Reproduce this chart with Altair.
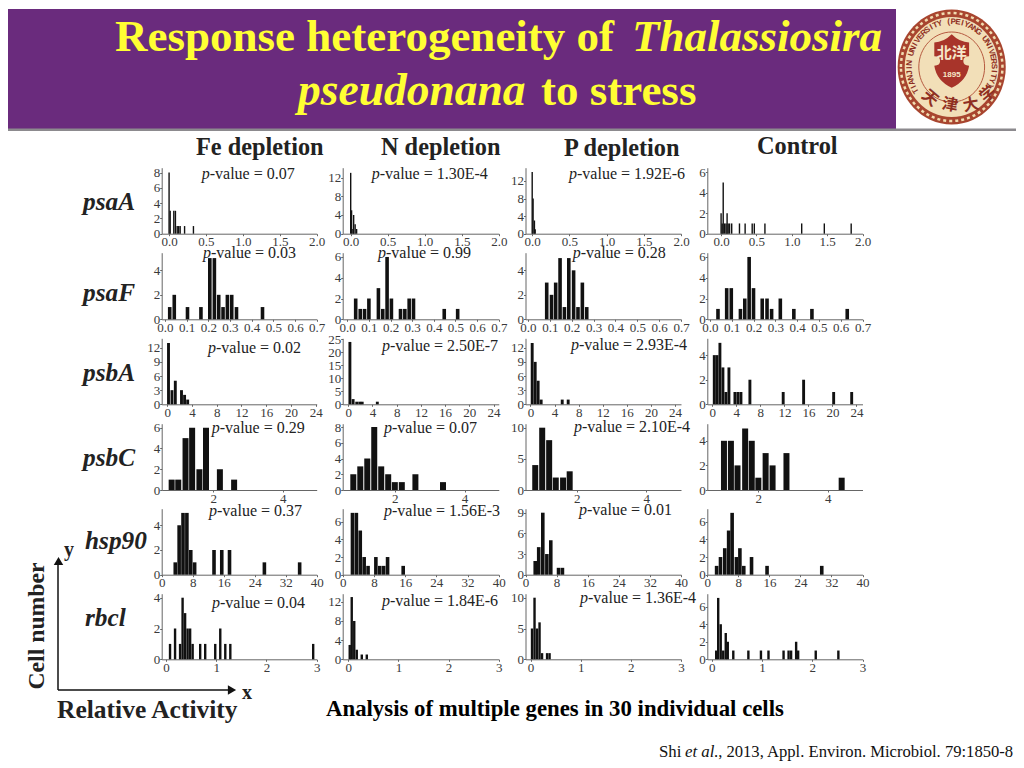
import math
import altair as alt
import pandas as pd

SERIF = "Liberation Serif"
CJK = "Noto Sans CJK SC"

# ---------- read-off values: x = bar centre, n = cell count ----------
psaA_Fe_x = [0.0, 0.015, 0.064, 0.086, 0.11, 0.13, 0.15, 0.21, 0.33]
psaA_Fe_n = [8, 3, 3, 3, 1, 1, 1, 1, 1]
psaA_N_x = [0.0, 0.012, 0.03, 0.04, 0.06, 0.08]
psaA_N_n = [13, 5, 1, 4, 2, 1]
psaA_P_x = [0.0, 0.012, 0.03, 0.04]
psaA_P_n = [14, 8, 3, 1]
psaA_C_x = [0.0, 0.015, 0.03, 0.05, 0.07, 0.085, 0.1, 0.12, 0.15, 0.26, 0.34, 0.44, 0.47, 0.62, 1.14, 1.46, 1.84]
psaA_C_n = [2, 1, 5, 1, 1, 2, 1, 1, 1, 1, 1, 1, 1, 1, 1, 1, 1]

psaF_Fe_x = [0.022, 0.043, 0.104, 0.166, 0.207, 0.228, 0.248, 0.268, 0.288, 0.308, 0.33, 0.45]
psaF_Fe_n = [1, 2, 1, 1, 5, 5, 2, 1, 2, 2, 1, 1]
psaF_N_x = [0.039, 0.06, 0.08, 0.10, 0.144, 0.164, 0.184, 0.204, 0.246, 0.266, 0.286, 0.306, 0.448, 0.51]
psaF_N_n = [2, 1, 1, 2, 3, 1, 6, 2, 1, 1, 2, 2, 1, 1]
psaF_P_x = [0.086, 0.108, 0.127, 0.147, 0.167, 0.187, 0.209, 0.229, 0.249, 0.269]
psaF_P_n = [3, 2, 3, 5, 1, 5, 4, 1, 3, 1]
psaF_C_x = [0.037, 0.077, 0.098, 0.14, 0.16, 0.18, 0.2, 0.24, 0.262, 0.283, 0.323, 0.385, 0.468, 0.63]
psaF_C_n = [1, 3, 3, 1, 2, 6, 3, 2, 2, 1, 2, 1, 1, 1]

psbA_Fe_x = [0.2, 0.76, 1.3, 2.3, 2.8, 3.3]
psbA_Fe_n = [13, 3, 5, 3, 2, 1]
psbA_N_x = [0.27, 0.8, 1.4, 1.9, 2.3, 4.8]
psbA_N_n = [24, 2, 1, 1, 1, 1]
psbA_P_x = [0.28, 0.78, 1.27, 1.77, 5.27, 6.26]
psbA_P_n = [13, 9, 5, 1, 1, 1]
psbA_C_x = [0.33, 0.78, 1.27, 1.77, 2.27, 2.77, 3.77, 4.27, 4.77, 6.26, 11.8, 15.2, 20.2, 23.2]
psbA_C_n = [4, 4, 5, 3, 1, 3, 1, 1, 1, 2, 1, 2, 1, 1]

psbC_Fe_x = [0.8, 0.99, 1.2, 1.39, 1.6, 1.79, 2.19, 2.6]
psbC_Fe_n = [1, 1, 5, 6, 2, 6, 2, 1]
psbC_N_x = [0.81, 1.01, 1.21, 1.41, 1.61, 1.81, 2.0, 2.2, 2.59, 3.38]
psbC_N_n = [2, 3, 4, 8, 3, 2, 1, 1, 2, 1]
psbC_P_x = [0.81, 1.01, 1.21, 1.4, 1.61, 1.8]
psbC_P_n = [4, 10, 8, 2, 2, 3]
psbC_C_x = [1.01, 1.21, 1.4, 1.62, 1.81, 2.0, 2.21, 2.41, 2.81, 4.4]
psbC_C_n = [4, 4, 2, 5, 4, 1, 3, 2, 3, 1]

hsp90_Fe_x = [3.5, 4.5, 5.5, 6.5, 7.5, 8.5, 13.5, 15.5, 17.5, 26.5, 35.6]
hsp90_Fe_n = [1, 4, 5, 5, 2, 1, 2, 2, 2, 1, 1]
hsp90_N_x = [2.5, 3.5, 4.5, 5.5, 6.5, 8.5, 9.5, 10.5, 11.5, 15.5]
hsp90_N_n = [7, 7, 5, 2, 1, 2, 1, 1, 2, 1]
hsp90_P_x = [2.5, 3.4, 4.45, 5.5, 6.5, 8.5, 9.5]
hsp90_P_n = [2, 4, 9, 3, 5, 1, 1]
hsp90_C_x = [2.4, 3.4, 4.5, 5.5, 6.4, 7.5, 8.4, 9.4, 11.4, 15.4, 29.5]
hsp90_C_n = [1, 2, 3, 5, 7, 2, 3, 1, 2, 1, 1]

rbcl_Fe_x = [0.08, 0.18, 0.28, 0.33, 0.38, 0.43, 0.48, 0.53, 0.68, 0.78, 0.98, 1.08, 1.18, 1.28, 2.93]
rbcl_Fe_n = [1, 2, 1, 4, 3, 2, 2, 1, 1, 1, 1, 2, 1, 1, 1]
rbcl_N_x = [0.03, 0.07, 0.12, 0.17, 0.27, 0.37]
rbcl_N_n = [3, 13, 8, 2, 1, 1]
rbcl_P_x = [0.03, 0.08, 0.13, 0.18, 0.23, 0.33, 0.38]
rbcl_P_n = [5, 10, 5, 6, 1, 1, 1]
rbcl_C_x = [0.09, 0.13, 0.18, 0.23, 0.28, 0.32, 0.43, 0.73, 0.98, 1.13, 1.43, 1.53, 1.58, 1.68, 1.72, 2.07, 2.52]
rbcl_C_n = [1, 7, 4, 1, 3, 2, 1, 1, 1, 1, 1, 1, 1, 2, 1, 1, 1]

bars_x = [
    [psaA_Fe_x, psaA_N_x, psaA_P_x, psaA_C_x], [psaF_Fe_x, psaF_N_x, psaF_P_x, psaF_C_x],
    [psbA_Fe_x, psbA_N_x, psbA_P_x, psbA_C_x], [psbC_Fe_x, psbC_N_x, psbC_P_x, psbC_C_x],
    [hsp90_Fe_x, hsp90_N_x, hsp90_P_x, hsp90_C_x], [rbcl_Fe_x, rbcl_N_x, rbcl_P_x, rbcl_C_x],
]
bars_n = [
    [psaA_Fe_n, psaA_N_n, psaA_P_n, psaA_C_n], [psaF_Fe_n, psaF_N_n, psaF_P_n, psaF_C_n],
    [psbA_Fe_n, psbA_N_n, psbA_P_n, psbA_C_n], [psbC_Fe_n, psbC_N_n, psbC_P_n, psbC_C_n],
    [hsp90_Fe_n, hsp90_N_n, hsp90_P_n, hsp90_C_n], [rbcl_Fe_n, rbcl_N_n, rbcl_P_n, rbcl_C_n],
]

# axis domains, ticks
x_min = [[-0.1, -0.108, -0.09, -0.195], [-0.015, -0.021, -0.011, -0.012], [-0.9, -0.92, -0.83, -0.83],
         [0.513, 0.506, 0.53, 0.53], [0, 0, 0, 0], [-0.086, -0.11, -0.1, -0.087]]
x_max = [[2.0] * 4, [0.7] * 4, [24.16, 24.87, 25.0, 25.0], [4.98, 4.98, 5.0, 5.0], [40] * 4, [3] * 4]
y_max = [[8.64, 14.1, 15, 6.43], [5.44, 6.41, 5.44, 6.41], [14, 25.4, 14, 5.37],
         [6.39, 8.42, 10.64, 5.39], [5.34, 7.47, 9.58, 7.47], [4.26, 13.7, 10.65, 7.48]]
x_ticks = [[0, 0.5, 1, 1.5, 2], [0, .1, .2, .3, .4, .5, .6, .7], [0, 4, 8, 12, 16, 20, 24], [2, 4],
           [0, 8, 16, 24, 32, 40], [0, 1, 2, 3]]
x_fmt = [".1f", ".1f", "d", "d", "d", "d"]
y_ticks = [[[0, 2, 4, 6, 8], [0, 4, 8, 12], [0, 4, 8, 12], [0, 2, 4, 6]],
           [[0, 2, 4], [0, 2, 4, 6], [0, 2, 4], [0, 2, 4, 6]],
           [[0, 3, 6, 9, 12], [0, 5, 10, 15, 20, 25], [0, 3, 6, 9, 12], [0, 2, 4]],
           [[0, 2, 4, 6], [0, 2, 4, 6, 8], [0, 5, 10], [0, 2, 4]],
           [[0, 2, 4], [0, 2, 4, 6], [0, 3, 6, 9], [0, 2, 4, 6]],
           [[0, 2, 4], [0, 4, 8, 12], [0, 5, 10], [0, 2, 4, 6]]]

p_values = [["0.07", "1.30E-4", "1.92E-6"], ["0.03", "0.99", "0.28"], ["0.02", "2.50E-7", "2.93E-4"],
            ["0.29", "0.07", "2.10E-4"], ["0.37", "1.56E-3", "0.01"], ["0.04", "1.84E-6", "1.36E-4"]]
genes = ["psaA", "psaF", "psbA", "psbC", "hsp90", "rbcl"]
conditions = ["Fe depletion", "N depletion", "P depletion", "Control"]

# ---------- layout (screen pixels of the reference) ----------
MARGIN = 8
RIGHT = 1016
CELL_W, CELL_H, OVER_H = 200, 100, 1
col_left = [161.7, 342.7, 525.5, 707.3]
col_right = [316.7, 498.8, 681, 862.5]
row_base = [232.7, 318.3, 403.3, 489, 573.7, 658.3]
row_top = [166.7, 251.7, 337.3, 422.7, 507.7, 592.7]
bar_px = [1.4, 3.6, 2.9, 6, 3.6, 2.4]

alt.data_transformers.disable_max_rows()


def panel(r, c):
    ox = c * CELL_W + MARGIN
    oy = OVER_H + r * CELL_H + MARGIN
    xl, xr = col_left[c] - ox, col_right[c] - ox
    yb, yt = row_base[r] - oy, row_top[r] - oy
    df = pd.DataFrame({"x": bars_x[r][c], "n": bars_n[r][c]})
    return alt.Chart(df).mark_bar(size=bar_px[r], color="#111111").encode(
        x=alt.X("x:Q", title=None,
                scale=alt.Scale(domain=[x_min[r][c], x_max[r][c]], range=[xl, xr], nice=False, zero=False, padding=0),
                axis=alt.Axis(values=x_ticks[r], format=x_fmt[r], offset=yb - CELL_H)),
        y=alt.Y("n:Q", title=None, stack=None,
                scale=alt.Scale(domain=[0, y_max[r][c]], range=[yb, yt], nice=False),
                axis=alt.Axis(values=y_ticks[r][c], format="d", offset=-xl)),
    ).properties(width=CELL_W, height=CELL_H)


def label(text, x, y, size, weight="normal", style="normal", color="#111111", align="left", font=SERIF, angle=0):
    return alt.Chart().mark_text(text=text, font=font, fontSize=size, fontWeight=weight, fontStyle=style,
                                 color=color, align=align, baseline="middle", angle=angle).encode(
        x=alt.value(x - MARGIN), y=alt.value(y - MARGIN))


def box(x0, x1, y0, y1, color):
    return alt.Chart().mark_rect(color=color).encode(
        x=alt.value(max(x0, MARGIN) - MARGIN), x2=alt.value(x1 - MARGIN),
        y=alt.value(max(y0, MARGIN) - MARGIN), y2=alt.value(y1 - MARGIN))


def blob(path, x, y, size, fill=None, stroke=None, sw=1, dash=None):
    kw = dict(shape=path, size=size, opacity=1)
    if fill:
        kw.update(filled=True, fill=fill, strokeWidth=0)
    else:
        kw.update(filled=False, stroke=stroke, strokeWidth=sw)
    if dash:
        kw["strokeDash"] = dash
    return alt.Chart().mark_point(**kw).encode(x=alt.value(x - MARGIN), y=alt.value(y - MARGIN))


layers = [
    box(0, 896, 0, 128, "#6a2b7d"),
    box(0, RIGHT, 127.5, 130, "#8c8a8e"),
    label("Response heterogeneity of", 115, 36, 45, "bold", color="#ffff33"),
    label("Thalassiosira", 632, 36, 45, "bold", "italic", "#ffff33"),
    label("pseudonana", 298, 90, 45.5, "bold", "italic", "#ffff33"),
    label("to stress", 541, 90, 45, "bold", color="#ffff33"),
]

# seal
LX, LY = 951.7, 66
ELL = "M-0.94,0 A0.94,1 0 1 1 0.94,0 A0.94,1 0 1 1 -0.94,0 Z"
SHIELD = ("M0,-0.92 Q-0.28,-0.64 -0.6,-0.64 L-0.6,-0.16 Q-0.4,-0.16 -0.4,0 Q-0.4,0.16 -0.6,0.16 "
          "Q-0.52,0.68 0,0.92 Q0.52,0.68 0.6,0.16 Q0.4,0.16 0.4,0 Q0.4,-0.16 0.6,-0.16 L0.6,-0.64 Q0.28,-0.64 0,-0.92 Z")
layers += [
    blob(ELL, LX, LY, 115 ** 2, fill="#a8452f"),
    blob(ELL, LX, LY, 108 ** 2, stroke="#f1dcb0", sw=2.5, dash=[3, 3]),
    blob(ELL, LX, LY, 100 ** 2, fill="#f2dfb8"),
    blob(ELL, LX, LY, 70 ** 2, stroke="#b65a40", sw=1),
    blob(SHIELD, LX, 60, 58 ** 2, fill="#a8342a"),
    label("北洋", LX, 52, 15, "bold", color="#f6e7c8", align="center", font=CJK),
    label("1895", LX, 74, 8, "bold", color="#f6e7c8", align="center", font="Liberation Sans"),
]
ring_text = "TIANJIN UNIVERSITY (PEIYANG UNIVERSITY)"
ring_chars = list(ring_text)
ring_deg = [-122 + i * (236 / (len(ring_chars) - 1)) for i in range(len(ring_chars))]
ring_df = pd.DataFrame({
    "ch": ring_chars,
    "px": [LX - MARGIN + 42 * math.sin(math.radians(d)) for d in ring_deg],
    "py": [LY - MARGIN - 45 * math.cos(math.radians(d)) for d in ring_deg],
    "rot": [d % 360 for d in ring_deg],
})
layers.append(alt.Chart(ring_df).mark_text(font="Liberation Sans", fontWeight="bold", fontSize=8,
                                            color="#8f2f22", align="center", baseline="middle").encode(
    x=alt.X("px:Q", scale=None), y=alt.Y("py:Q", scale=None), text="ch:N", angle=alt.Angle("rot:Q", scale=None)))
for ch, cx, cy, rot in [("天", 930, 97, 40), ("津", 950, 104, 10), ("大", 971, 104, 350), ("学", 988, 93, 320)]:
    layers.append(label(ch, cx, cy, 16, "bold", color="#8f2f22", align="center", font=CJK, angle=rot))

# column heads, gene names
for text, x, y in zip(conditions, [196, 381, 564, 757], [147, 147, 148, 146]):
    layers.append(label(text, x, y, 24.3, "bold", color="#222222"))
for g, x, y in zip(genes, [83, 83, 83, 83, 85, 85], [201, 292, 372, 457, 540, 617]):
    layers.append(label(g, x, y, 25.3, "bold", "italic", "#222222"))

# p-values
p_left = [[201.7, 371.7, 569], [203, 378, 572.7], [208, 382, 571], [211.7, 384, 574], [209, 384, 579], [212, 382, 580]]
p_mid = [[172.7, 172.7, 172.7], [251.7, 251.7, 252], [346.7, 345, 344], [426.7, 426.7, 426], [510, 510, 509],
         [601.7, 600, 597]]
for r, row in enumerate(p_values):
    for c, val in enumerate(row):
        layers.append(label("p", p_left[r][c], p_mid[r][c], 16, style="italic", color="#222222"))
        layers.append(label(f"-value = {val}", p_left[r][c] + 8, p_mid[r][c], 16, color="#222222"))

# axis sketch and notes
layers += [
    alt.Chart().mark_rule(color="#111111", strokeWidth=1.5).encode(
        x=alt.value(58 - MARGIN), y=alt.value(560 - MARGIN), y2=alt.value(689 - MARGIN)),
    alt.Chart().mark_rule(color="#111111", strokeWidth=1.5).encode(
        x=alt.value(58 - MARGIN), x2=alt.value(232 - MARGIN), y=alt.value(689 - MARGIN)),
    blob("triangle-up", 58.5, 560, 90, fill="#111111"),
    blob("triangle-right", 232, 689, 90, fill="#111111"),
    label("y", 69, 549, 20, "bold", color="#222222", align="center"),
    label("x", 247, 692, 20, "bold", color="#222222", align="center"),
    label("Cell number", 37, 625, 23.7, "bold", color="#222222", align="center", angle=270),
    label("Relative Activity", 57, 709, 25.5, "bold", color="#222222"),
    label("Analysis of multiple genes in 30 individual cells", 326, 708, 22.8, "bold", color="#000000"),
    label("Shi", 659, 751, 16.8, color="#111111"),
    label("et al", 685, 751, 16.8, style="italic", color="#111111"),
    label("., 2013, Appl. Environ. Microbiol. 79:1850-8", 714, 751, 16.6, color="#111111"),
]

overlay = alt.layer(*layers).properties(width=RIGHT - MARGIN, height=OVER_H)
grid = alt.concat(*[panel(r, c) for r in range(6) for c in range(4)], columns=4, spacing=0, bounds="flush")

chart = alt.vconcat(overlay, grid, spacing=0, bounds="flush").properties(padding=0).configure_view(
    stroke=None
).configure_axis(
    grid=False, labelFont=SERIF, labelFontSize=13, labelColor="#3a3a3a", labelPadding=0, tickSize=2,
    tickColor="#666666", domainColor="#666666", labelOverlap=False, labelFlush=False, tickWidth=1, domainWidth=1,
)

chart.save("out.html", embed_options={"renderer": "svg", "actions": False})
